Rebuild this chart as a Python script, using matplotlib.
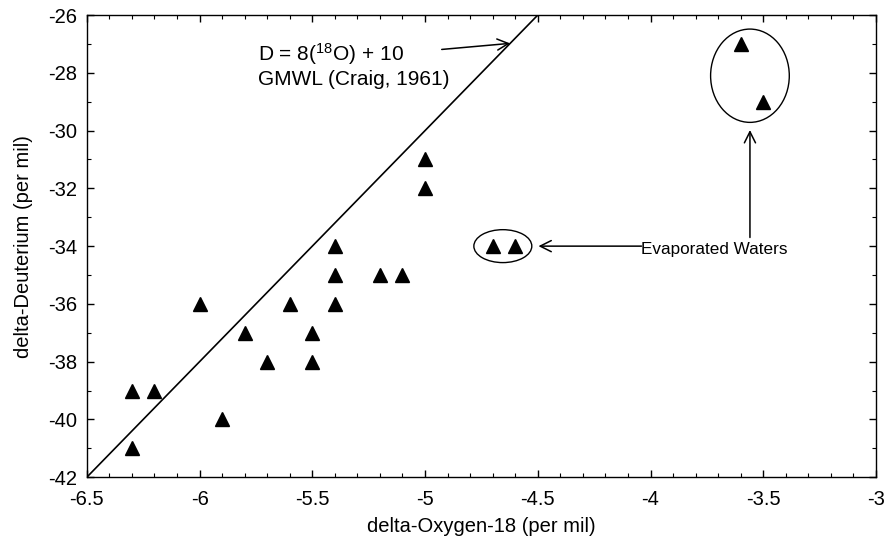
import numpy as np
import matplotlib
matplotlib.use('Agg')
import matplotlib.pyplot as plt
from matplotlib import patches
from matplotlib.ticker import MultipleLocator, FormatStrFormatter

plt.rcParams['font.family'] = ['Liberation Sans', 'DejaVu Sans']
plt.rcParams['mathtext.default'] = 'regular'
plt.rcParams['axes.unicode_minus'] = False

# Sample isotope values (per mil)
o18 = [-6.3, -6.2, -6.3, -6.0, -5.9, -5.8, -5.7, -5.6, -5.5, -5.5, -5.4,
       -5.4, -5.4, -5.2, -5.1, -5.0, -5.0, -4.7, -4.6, -3.6, -3.5]
deut = [-39, -39, -41, -36, -40, -37, -38, -36, -37, -38, -34,
        -35, -36, -35, -35, -31, -32, -34, -34, -27, -29]

# GMWL: D = 8*O18 + 10
gmwl_slope = 8
gmwl_icpt = 10
gmwl_x = np.array([-6.5, -4.5])

fig = plt.figure(figsize=(8.86, 5.46), dpi=100)
ax = fig.add_axes([0.098, 0.126, 0.8907, 0.8464])

ax.plot(gmwl_x, gmwl_slope * gmwl_x + gmwl_icpt, color='black', lw=1.2)
ax.plot(o18, deut, '^', color='black', ms=9.5, ls='none')

# circles around evaporated samples
ax.add_patch(patches.Ellipse((-4.655, -34), 0.257, 1.14, fill=False, color='black', lw=1))
ax.add_patch(patches.Ellipse((-3.559, -28.1), 0.349, 3.23, fill=False, color='black', lw=1))

arrow = dict(arrowstyle='->', color='black', lw=1.1, mutation_scale=20, shrinkA=0, shrinkB=0)
ax.annotate('', xy=(-4.623, -26.98), xytext=(-4.926, -27.19), arrowprops=arrow)
ax.text(-5.74, -27.6, 'D = 8($^{18}$O) + 10', fontsize=15, va='baseline')
ax.text(-5.74, -28.42, 'GMWL (Craig, 1961)', fontsize=15, va='baseline')

ax.text(-4.04, -34.12, 'Evaporated Waters', fontsize=12.3, va='center', ha='left')
ax.annotate('', xy=(-4.497, -34.0), xytext=(-4.04, -34.0), arrowprops=arrow)
ax.annotate('', xy=(-3.559, -29.98), xytext=(-3.559, -33.7), arrowprops=arrow)

ax.set_xlim(-6.5, -3)
ax.set_ylim(-42, -26)
ax.xaxis.set_major_locator(MultipleLocator(0.5))
ax.xaxis.set_minor_locator(MultipleLocator(0.1))
ax.yaxis.set_major_locator(MultipleLocator(2))
ax.yaxis.set_minor_locator(MultipleLocator(1))
ax.xaxis.set_major_formatter(FormatStrFormatter('%g'))
ax.yaxis.set_major_formatter(FormatStrFormatter('%g'))
ax.tick_params(which='both', direction='in', top=True, right=True, labelsize=14.5)
ax.tick_params(which='major', length=5, width=1)
ax.tick_params(which='minor', length=3, width=0.8)
ax.tick_params(axis='x', which='major', pad=9)
ax.tick_params(axis='y', which='major', pad=7)
for s in ax.spines.values():
    s.set_linewidth(1)

ax.set_xlabel('delta-Oxygen-18 (per mil)', fontsize=14.5, labelpad=6)
ax.set_ylabel('delta-Deuterium (per mil)', fontsize=14.5, labelpad=11)

plt.savefig('out.png', dpi=100)
